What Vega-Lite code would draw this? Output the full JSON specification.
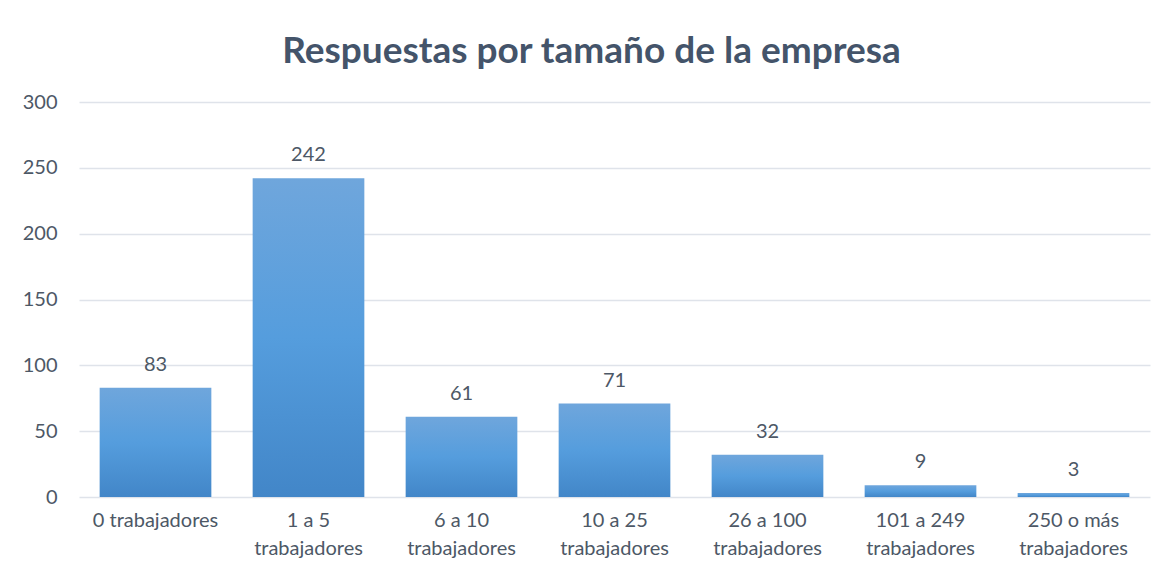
{
  "$schema": "https://vega.github.io/schema/vega-lite/v6.json",
  "autosize": "none",
  "width": 1071,
  "height": 395,
  "padding": {"left": 79, "top": 102, "right": 23, "bottom": 77},
  "background": "white",
  "title": {
    "text": "Respuestas por tamaño de la empresa",
    "font": "Lato",
    "fontSize": 37,
    "fontWeight": "bold",
    "color": "#44546a",
    "anchor": "middle",
    "dx": -23,
    "offset": 21
  },
  "data": {
    "values": [
      {"tamano": "0 trabajadores", "respuestas": 83},
      {"tamano": "1 a 5 trabajadores", "respuestas": 242},
      {"tamano": "6 a 10 trabajadores", "respuestas": 61},
      {"tamano": "10 a 25 trabajadores", "respuestas": 71},
      {"tamano": "26 a 100 trabajadores", "respuestas": 32},
      {"tamano": "101 a 249 trabajadores", "respuestas": 9},
      {"tamano": "250 o más trabajadores", "respuestas": 3}
    ]
  },
  "encoding": {
    "x": {
      "field": "tamano",
      "type": "nominal",
      "sort": null,
      "title": null,
      "scale": {"paddingInner": 0.27, "paddingOuter": 0.135},
      "axis": {
        "labelAngle": 0,
        "labelFont": "Lato",
        "labelFontSize": 20,
        "labelColor": "#4d5866",
        "labelPadding": 13,
        "labelLineHeight": 28,
        "labelBaseline": "top",
        "ticks": false,
        "domain": false,
        "labelExpr": "datum.label == '0 trabajadores' ? datum.label : [replace(datum.label, ' trabajadores', ''), 'trabajadores']"
      }
    },
    "y": {
      "field": "respuestas",
      "type": "quantitative",
      "title": null,
      "scale": {"domain": [0, 300]},
      "axis": {
        "values": [0, 50, 100, 150, 200, 250, 300],
        "labelFont": "Lato",
        "labelFontSize": 20,
        "labelColor": "#4d5866",
        "labelPadding": 22,
        "ticks": false,
        "domain": false,
        "gridColor": "#dfe3ea",
        "gridWidth": 1.5
      }
    }
  },
  "layer": [
    {
      "mark": {
        "type": "bar",
        "color": {
          "gradient": "linear",
          "x1": 0, "y1": 0, "x2": 0, "y2": 1,
          "stops": [
            {"offset": 0, "color": "#6fa6dc"},
            {"offset": 0.5, "color": "#559ddd"},
            {"offset": 1, "color": "#4286c8"}
          ]
        }
      }
    },
    {
      "mark": {
        "type": "text",
        "baseline": "bottom",
        "dy": -13,
        "font": "Lato",
        "fontSize": 20,
        "color": "#4d5866"
      },
      "encoding": {
        "text": {"field": "respuestas", "type": "quantitative"}
      }
    }
  ],
  "config": {
    "view": {"stroke": null}
  }
}
